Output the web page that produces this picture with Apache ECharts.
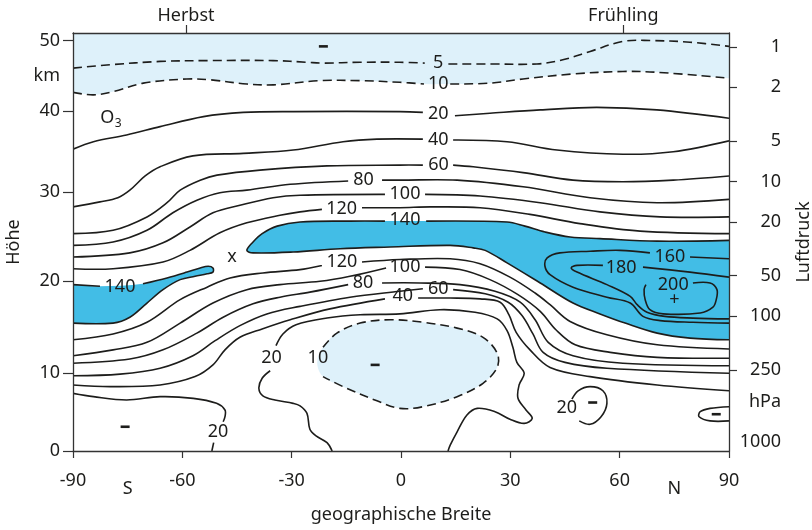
<!DOCTYPE html>
<html>
<head>
<meta charset="utf-8">
<title>Ozon</title>
<script src="https://cdn.jsdelivr.net/npm/echarts@6/dist/echarts.min.js"></script>
<style>
  html, body { margin: 0; padding: 0; background: #fff; }
  #chart { width: 812px; height: 530px; }
</style>
</head>
<body>
<div id="chart"></div>
<script>
// points are [latitude deg, log-pressure height z = 7 km * ln(1000 hPa / p)]
// null = gap in the line where a label sits
var c5 = [[-90,45.8],[-79.8,46.2],[-66.1,46.6],[-52.4,46.7],[-35.1,46.7],[-25.8,46.5],[-21.4,46.4],[-11.2,46.5],[-0.3,46.5],[6.5,46.4], null,
  [13.0,46.3],[24.4,46.3],[37.3,46.3],[44.4,46.8],[51.9,47.8],[60.9,49.0],[68.3,49.1],[79.3,48.9],[90,48.4]]
var c10 = [[-90,42.9],[-84.4,42.6],[-78.9,43.0],[-70.7,44.0],[-58.8,44.5],[-52.4,44.4],[-42.3,43.9],[-35.0,43.8],[-22.2,44.3],[-11.2,44.3],[-0.3,44.1],[6.3,43.9], null,
  [13.5,43.9],[24.4,44.0],[33.5,44.5],[47.2,45.1],[60.9,45.4],[70.3,45.3],[90,44.6]]
var c20 = [[-90,36.1],[-84.4,37.0],[-75.3,37.8],[-66.1,38.8],[-54.2,40.0],[-43.3,40.5],[-29.5,40.6],[-0.3,40.6],[6.0,40.5], null,
  [14.8,40.1],[24.4,40.4],[38.2,40.8],[53.7,41.1],[70.2,40.8],[90,39.8]]
var c40 = [[-90,29.2],[-82.6,29.8],[-77.7,30.3],[-74.4,31.2],[-70.2,32.9],[-66.1,34.0],[-57.1,35.3],[-43.3,35.6],[-29.6,36.0],[-15.9,37.0],[-6.6,37.3],[6.0,37.3], null,
  [14.3,37.2],[29.1,37.0],[42.8,36.0],[60.9,35.5],[74.7,35.8],[90,37.1]]
var c60 = [[-90,26.0],[-79.0,26.4],[-69.7,28.0],[-64.2,29.7],[-60.6,31.2],[-55.1,32.4],[-50.5,33.0],[-38.7,33.6],[-20.3,34.1],[-0.3,34.2],[6.0,34.2], null,
  [14.3,34.2],[19.8,34.0],[33.5,33.3],[47.2,32.4],[60.9,32.2],[74.7,32.4],[90,32.9]]
var c80 = [[-90,24.6],[-79.0,25.0],[-69.7,26.4],[-62.6,28.5],[-56.0,30.0],[-49.7,30.9],[-42.3,31.2],[-30.4,31.9],[-14.5,32.3], null,
  [-5.2,32.4],[-0.3,32.4],[15.4,32.4],[33.5,31.6],[51.9,30.3],[70.3,29.7],[90,30.1]]
var c100 = [[-90,23.2],[-74.4,23.7],[-65.3,24.9],[-57.9,26.8],[-51.6,28.5],[-44.2,29.4],[-35.1,30.3],[-27.7,30.6],[-4.4,30.7], null,
  [6.6,30.7],[21.7,30.5],[38.2,29.7],[54.6,28.6],[71.1,28.0],[90,28.0]]
var c120 = [[-90,21.8],[-79.0,21.8],[-65.3,22.6],[-57.9,24.0],[-49.7,26.1],[-42.3,27.3],[-33.2,28.2],[-27.7,28.6],[-21.7,28.9], null,
  [-10.7,29.1],[-0.3,29.1],[8.0,29.2],[21.7,29.1],[35.4,28.3],[49.1,27.2],[65.6,26.3],[90,26.0]]
// 140 core, from the right edge along the top, round the tip, back along the bottom
var c140 = [[90,25.2],[70.3,25.1],[54.6,25.4],[46.4,25.6],[39.5,26.2],[34.0,26.9],[29.1,27.4],[6.9,27.5], null,
  [-4.4,27.5],[-14.0,27.5],[-27.7,27.4],[-34.0,26.9],[-38.1,26.0],[-40.6,25.0],[-42.3,24.0],
  [-40.6,23.7],[-29.6,23.8],[-16.7,24.2],[-3.0,24.4],[13.5,24.6],[19.8,24.3],[23.1,24.0],[29.1,22.5],[38.2,20.1],
  [47.2,17.7],[54.6,16.4],[61.5,15.3],[70.3,14.1],[79.3,13.5],[90,13.3]]
var c140s = [[-90,19.9],[-82.6,19.7], null, [-70.8,20.0],[-64.2,20.7],[-58.7,21.4],[-55.1,21.9],[-52.9,22.1],[-51.6,21.9],[-51.6,21.4],
  [-53.2,21.2],[-56.5,20.9],[-60.6,20.5],[-65.3,19.3],[-69.7,17.7],[-74.4,16.0],[-79.0,15.3],[-90,15.3]]
var c160 = [[90,23.0],[79.3,23.2], null, [68.3,23.7],[60.1,24.0],[51.9,23.9],[43.6,23.7],[40.1,23.1],[39.5,22.1],[40.9,21.1],[47.2,19.6],
  [56.5,18.4],[62.9,17.7],[66.4,16.1],[71.1,15.6],[80.1,15.4],[90,15.3]]
var c180 = [[90,20.8],[79.3,21.4],[66.4,22.0], null, [55.4,22.2],[48.3,22.2],[46.7,21.9],[48.3,21.4],[56.5,19.9],[62.9,18.5],
  [64.8,17.5],[67.5,16.6],[72.4,16.1],[80.1,15.9],[90,15.8]]
var c200 = [[80.1,20.1],[84.8,20.1],[86.7,19.3],[86.5,18.1],[85.6,17.2],[82.1,16.5],[71.9,16.4],[68.3,16.9],[67.0,18.1],[66.7,19.3],[67.2,19.9]]
// lower troposphere
var c120b = [[-90,13.3],[-79.0,14.0],[-69.7,15.4],[-60.6,18.1],[-53.2,19.6],[-46.9,20.7],[-37.9,21.3],[-27.7,21.7],[-21.7,22.2], null,
  [-10.7,22.6],[-0.3,22.9],[13.5,23.0],[21.7,22.4],[29.9,20.8],[36.8,18.9],[40.9,17.5],[46.4,15.5],[56.5,13.9],[70.3,12.7],[90,12.2]]
var c100b = [[-90,11.4],[-79.0,12.1],[-69.7,13.0],[-60.6,15.3],[-51.6,17.7],[-42.3,19.3],[-33.2,19.9],[-22.2,20.3],[-14.0,20.9],[-4.1,21.9], null,
  [6.6,22.0],[16.2,21.7],[24.4,20.5],[32.1,18.7],[38.2,16.7],[42.5,14.5],[47.8,12.7],[57.4,11.8],[70.3,11.2],[90,11.1]]
var c80b = [[-90,10.5],[-74.4,11.0],[-65.3,12.1],[-56.0,14.1],[-48.8,16.0],[-40.6,17.6],[-33.2,18.4],[-25.0,19.0],[-14.5,19.9], null,
  [-5.2,20.1],[5.2,20.1],[16.2,19.9],[25.8,19.1],[32.7,17.8],[36.8,15.7],[40.4,13.0],[47.2,11.4],[60.9,10.5],[90,10.2]]
var c60b = [[-90,9.0],[-77.1,9.2],[-66.1,9.9],[-57.1,11.4],[-51.0,13.2],[-44.2,15.0],[-36.8,16.4],[-27.7,17.3],[-14.0,18.4],[-0.3,19.1],[6.0,19.4], null,
  [14.3,19.3],[23.1,18.8],[29.4,17.8],[33.2,16.2],[36.2,14.0],[39.0,11.8],[45.0,10.6],[56.5,9.9],[90,9.3]]
var c40b = [[-90,7.9],[-79.8,7.7],[-66.1,7.9],[-56.5,8.9],[-51.6,10.3],[-48.3,12.1],[-44.2,13.6],[-38.1,14.6],[-30.4,15.7],[-19.5,17.0],[-4.4,18.2], null,
  [4.7,18.3],[13.5,18.3],[21.7,18.2],[27.2,17.8],[29.6,16.3],[31.6,14.2],[35.4,12.1],[40.9,10.0],[51.9,8.9],[70.3,7.9],[90,7.2]]
var c20sw = [[-90,6.9],[-84.4,6.5],[-75.3,6.1],[-66.1,6.5],[-57.0,6.3],[-50.6,5.7],[-48.3,4.9],[-48.3,4.1],[-48.8,3.5], null, [-51.4,1.0],[-51.9,0]]
var c20eq = [[-18.9,0],[-20.3,1.0],[-23.3,1.8],[-25.0,2.6],[-25.8,4.5],[-27.7,5.4],[-29.6,5.7],[-34.6,6.1],[-37.9,6.6],[-39.0,7.5],[-38.1,8.7],[-35.9,9.6], null,
  [-34.3,12.6],[-32.4,14.0],[-28.8,15.1],[-20.3,15.9],[-11.2,16.3],[-0.3,16.4],[10.7,16.9],[20.3,16.6],[26.4,15.8],[29.1,14.4],[30.7,12.4],
  [31.8,10.6],[33.8,9.3],[32.4,7.9],[32.1,6.3],[34.3,4.9],[36.0,3.9],[33.8,3.3],[29.9,3.8],[25.8,4.7],[20.9,5.1],[18.1,4.3],[15.4,2.3],[13.5,0.7],[12.9,0]]
var c10eq = [[-21.4,12.4],[-17.6,14.1],[-11.2,15.3],[-3.0,15.7],[6.0,15.4],[15.4,14.7],[22.5,13.6],[26.4,11.7],[26.4,10.0],[22.5,8.1],
  [15.4,6.5],[6.0,5.3],[-0.3,5.1],[-6.6,6.0],[-15.9,7.7],[-21.4,8.9], null, [-23.0,10.6]]
var c20n = [[46.9,6.2],[48.6,7.2],[51.9,7.7],[55.4,7.2],[56.5,5.7],[54.9,4.1],[51.9,3.2],[48.9,3.6]]
var c20ne = [[90,5.3],[84.8,5.1],[82.1,4.7],[81.8,4.1],[84.8,3.6],[90,3.6]]

// contour labels [lat, z, text]
var contourLabels = [
  [10.2,46.4,'5'], [10.2,43.9,'10'], [10.2,40.3,'20'], [10.2,37.2,'40'], [10.3,34.2,'60'],
  [-10.3,32.4,'80'], [1.1,30.7,'100'], [-16.3,29.0,'120'], [1.1,27.6,'140'],
  [-16.2,22.6,'120'], [1.1,22.0,'100'], [-10.4,20.1,'80'], [10.2,19.4,'60'], [0.5,18.5,'40'],
  [-77.1,19.6,'140'], [73.8,23.2,'160'], [60.4,21.9,'180'], [74.7,19.9,'200'],
  [-35.5,11.1,'20'], [-22.8,11.1,'10'], [-50.2,2.3,'20'], [45.5,5.1,'20']
]
var textMarks = [[-46.4,23.2,'x'], [75.0,18.1,'+'], [-80.6,39.9,'O']]
var subMarks = [[-77.6,39.2,'3']]
var minusMarks = [[-21.3,48.4],[-75.7,2.9],[-7.1,10.3],[52.6,5.8],[86.5,4.4]]

// axes
var latTicks = [-90, -60, -30, 0, 30, 60, 90]
var heightTicks = [0, 10, 20, 30, 40, 50]
var heightTickHPa = [1000, 265, 55, 12, 3.0, 0.9]
var pressureTicks = [1, 2, 5, 10, 20, 50, 100, 250]
var seasonLat = [-59, 61]
var seasonNames = ['Herbst', 'Frühling']

var INK = '#1d1d1b'
var DEEP = '#42bde6'
var LIGHT = '#def1fa'
var FONT = 'Noto Sans'
var SMOOTH = 0.35

function zOf (p) { return 7 * Math.log(1000 / p) }
function nonNull (pts) { return pts.filter(function (p) { return p }) }
function segments (pts) {
  var segs = [[]]
  pts.forEach(function (p) {
    if (p === null) segs.push([])
    else segs[segs.length - 1].push(p)
  })
  return segs.filter(function (s) { return s.length > 1 })
}

var heightZ = heightTickHPa.map(zOf)
var kmZ = (heightZ[4] + heightZ[5]) / 2
var pressureZ = pressureTicks.map(zOf)
var hPaZ = zOf(430)
var bottomLabelZ = zOf(860)

var lines = [
  { pts: c5, dash: true }, { pts: c10, dash: true }, { pts: c20 }, { pts: c40 }, { pts: c60 }, { pts: c80 },
  { pts: c100 }, { pts: c120 }, { pts: c140 }, { pts: c140s }, { pts: c160 }, { pts: c180 }, { pts: c200 },
  { pts: c120b }, { pts: c100b }, { pts: c80b }, { pts: c60b }, { pts: c40b },
  { pts: c20sw }, { pts: c20eq }, { pts: c10eq, dash: true }, { pts: c20n }, { pts: c20ne }
]

// filled areas, closed a little outside the plot so the clip gives straight edges
var top10 = nonNull(c10)
var core = nonNull(c140)
var south = nonNull(c140s)
var fills = [
  { color: LIGHT, pts: [[-95, top10[0][1]]].concat(top10, [[95, top10[top10.length - 1][1]], [95, 56], [-95, 56]]) },
  { color: DEEP, pts: core.concat([[95, core[core.length - 1][1]], [95, core[0][1]]]) },
  { color: DEEP, pts: south.concat([[-95, south[south.length - 1][1]], [-95, south[0][1]]]) },
  { color: LIGHT, pts: nonNull(c10eq) }
]

var chart = echarts.init(document.getElementById('chart'))
var txt = { color: INK, fontFamily: FONT, fontSize: 18 }
var axisLine = { show: true, onZero: false, lineStyle: { color: '#333', width: 1.3 } }

function pick (values, labels, v) {
  for (var i = 0; i < values.length; i++) {
    if (Math.abs(values[i] - v) < 1e-6) return labels[i]
  }
  return ''
}

chart.setOption({
  animation: false,
  backgroundColor: '#fff',
  grid: { left: 73, right: 83, top: 33, bottom: 79, containLabel: false, outerBoundsMode: 'none' },
  xAxis: [{
    type: 'value', min: -90, max: 90, interval: 30, position: 'bottom', z: 5,
    axisLine: axisLine,
    axisTick: { length: 7, lineStyle: { color: '#333', width: 1.2 } },
    axisLabel: Object.assign({ margin: 21, customValues: latTicks }, txt),
    splitLine: { show: false },
    name: 'geographische Breite', nameLocation: 'middle', nameGap: 55, nameTextStyle: txt
  }, {
    type: 'value', min: -90, max: 90, position: 'bottom', offset: 8,
    axisLine: { show: false, onZero: false }, axisTick: { show: false }, splitLine: { show: false },
    axisLabel: Object.assign({ margin: 21, customValues: [-75, 75], formatter: function (v) { return v < 0 ? 'S' : 'N' } }, txt)
  }, {
    type: 'value', min: -90, max: 90, position: 'top', z: 5,
    axisLine: axisLine,
    axisTick: { show: true, length: 8, customValues: seasonLat, lineStyle: { color: '#333', width: 1.2 } },
    axisLabel: Object.assign({ margin: 8, customValues: seasonLat, formatter: function (v) { return pick(seasonLat, seasonNames, v) } }, txt),
    splitLine: { show: false }
  }],
  yAxis: [{
    type: 'value', min: 0, max: 50, position: 'left', z: 5,
    axisLine: axisLine,
    axisTick: { length: 10, customValues: heightZ, lineStyle: { color: '#333', width: 1.2 } },
    axisLabel: Object.assign({
      margin: 13,
      customValues: heightZ.concat([kmZ]),
      formatter: function (v) { return Math.abs(v - kmZ) < 1e-6 ? 'km' : String(pick(heightZ, heightTicks, v)) }
    }, txt),
    splitLine: { show: false },
    name: 'Höhe', nameLocation: 'middle', nameGap: 50, nameRotate: 90, nameTextStyle: txt
  }, {
    type: 'value', min: 0, max: 50, position: 'right', z: 5,
    axisLine: axisLine,
    axisTick: { length: 8, customValues: pressureZ, lineStyle: { color: '#333', width: 1.2 } },
    axisLabel: Object.assign({
      margin: 52, align: 'right',
      customValues: pressureZ.concat([hPaZ, bottomLabelZ]),
      formatter: function (v) {
        if (Math.abs(v - hPaZ) < 1e-6) return 'hPa'
        if (Math.abs(v - bottomLabelZ) < 1e-6) return '1000'
        return String(pick(pressureZ, pressureTicks, v))
      }
    }, txt),
    splitLine: { show: false },
    name: 'Luftdruck', nameLocation: 'middle', nameGap: 66, nameRotate: 90, nameTextStyle: txt
  }],
  series: [{
    type: 'custom', clip: true, z: 1, silent: true,
    data: fills.map(function (f) { return f.pts[0] }),
    renderItem: function (params, api) {
      var f = fills[params.dataIndex]
      return {
        type: 'polygon',
        shape: { points: f.pts.map(function (p) { return api.coord(p) }), smooth: SMOOTH },
        style: { fill: f.color, stroke: null }
      }
    }
  }, {
    type: 'custom', clip: true, z: 2, silent: true,
    data: lines.map(function (l) { return nonNull(l.pts)[0] }),
    renderItem: function (params, api) {
      var l = lines[params.dataIndex]
      return {
        type: 'group',
        children: segments(l.pts).map(function (seg) {
          return {
            type: 'polyline',
            shape: { points: seg.map(function (p) { return api.coord(p) }), smooth: SMOOTH },
            style: { fill: null, stroke: INK, lineWidth: 1.6, lineDash: l.dash ? [9, 5] : null }
          }
        })
      }
    }
  }, {
    type: 'scatter', z: 6, silent: true, symbolSize: 1,
    itemStyle: { color: 'rgba(0,0,0,0)', opacity: 1 },
    data: contourLabels.concat(textMarks).map(function (d) { return { value: [d[0], d[1]], name: d[2] } }),
    label: Object.assign({ show: true, position: 'inside', formatter: '{b}' }, txt)
  }, {
    type: 'scatter', z: 6, silent: true, symbolSize: 1,
    itemStyle: { color: 'rgba(0,0,0,0)', opacity: 1 },
    data: subMarks.map(function (d) { return { value: [d[0], d[1]], name: d[2] } }),
    label: Object.assign({}, txt, { show: true, position: 'inside', formatter: '{b}', fontSize: 12 })
  }, {
    type: 'scatter', z: 6, silent: true, symbol: 'rect', symbolSize: [9, 2.6],
    itemStyle: { color: INK, opacity: 1 },
    data: minusMarks
  }]
})
</script>
</body>
</html>
